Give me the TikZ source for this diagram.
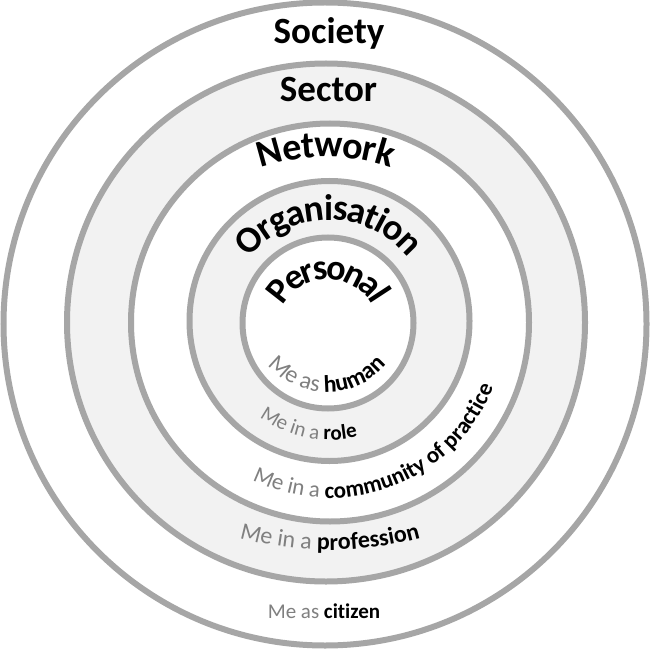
\documentclass[tikz,border=0pt]{standalone}
\usepackage{fontspec}
\setmainfont[Ligatures=CommonOff]{Carlito}
\usepackage{xcolor}
\usetikzlibrary{decorations.text}

\definecolor{ringgray}{HTML}{A6A6A6}
\definecolor{bandgray}{HTML}{F2F2F2}
\definecolor{megray}{HTML}{808080}

\newcommand{\lvlfont}[1]{\fontsize{#1}{#1}\selectfont\bfseries\color{black}}
\newcommand{\mefont}[1]{\fontsize{#1}{#1}\selectfont\mdseries\color{megray}}

\tikzset{
  ring/.style={draw=ringgray, line width=6pt},
  level/.style={font=\fontsize{37}{40}\selectfont\bfseries, anchor=base, inner sep=0pt},
  arctext/.style={decorate, decoration={text along path, text align=center, text={#1}}}
}

\begin{document}
\begin{tikzpicture}[x=1pt, y=1pt]
    \useasboundingbox (0,0) rectangle (650,649);

    % Draw the five rings, largest first
    \filldraw[ring, fill=white] (325,325) circle (321.5pt);
    \filldraw[ring, fill=bandgray] (326,326.5) circle (259pt);
    \filldraw[ring, fill=white] (330,326.5) circle (199pt);
    \filldraw[ring, fill=bandgray] (329.5,328) circle (140pt);
    \filldraw[ring, fill=white] (328,326) circle (85.5pt);

    % Centres of the curved labels
    \coordinate (netc) at (326,292);
    \coordinate (orgc) at (329,327);
    \coordinate (perc) at (328,320);
    \coordinate (humc) at (327,334);
    \coordinate (rolc) at (329,327);
    \coordinate (comc) at (330,327);
    \coordinate (proc) at (330,442);

    % Straight level names at the top
    \node[level] (society) at (329,605.5) {Society};
    \node[level] (sector) at (328.5,547) {Sector};

    % Curved level names (path lies a little outside the baseline)
    \path[arctext={|\lvlfont{38}|Network}, decoration={raise=-10pt}] (netc) ++(120:210pt) arc[start angle=120, end angle=60, radius=210pt];
    \path[arctext={|\lvlfont{37}|Organisation}, decoration={raise=-10pt}] (orgc) ++(175:112pt) arc[start angle=175, end angle=5, radius=112pt];
    \path[arctext={|\lvlfont{36}|Personal}, decoration={raise=-11pt}] (perc) ++(210:61pt) arc[start angle=210, end angle=-30, radius=61pt];

    % Curved "me" labels at the bottom
    \path[arctext={|\mefont{24}|Me as |\lvlfont{24}|human}] (humc) ++(190:77pt) arc[start angle=190, end angle=350, radius=77pt];
    \path[arctext={|\mefont{21}|Me in a |\lvlfont{21}|role}] (rolc) ++(199:118pt) arc[start angle=199, end angle=319, radius=118pt];
    \path[arctext={|\mefont{23}|Me in a |\lvlfont{23}|community of practice}] (comc) ++(211:176pt) arc[start angle=211, end angle=371, radius=176pt];
    \path[arctext={|\mefont{24}|Me in a |\lvlfont{24}|profession}] (proc) ++(245:343pt) arc[start angle=245, end angle=295, radius=343pt];

    % Straight label in the outer ring
    \node[anchor=base, inner sep=0pt, font=\fontsize{21}{24}\selectfont] (citizen) at (324,31) {\textcolor{megray}{Me as} \textbf{citizen}};

\end{tikzpicture}
\end{document}
